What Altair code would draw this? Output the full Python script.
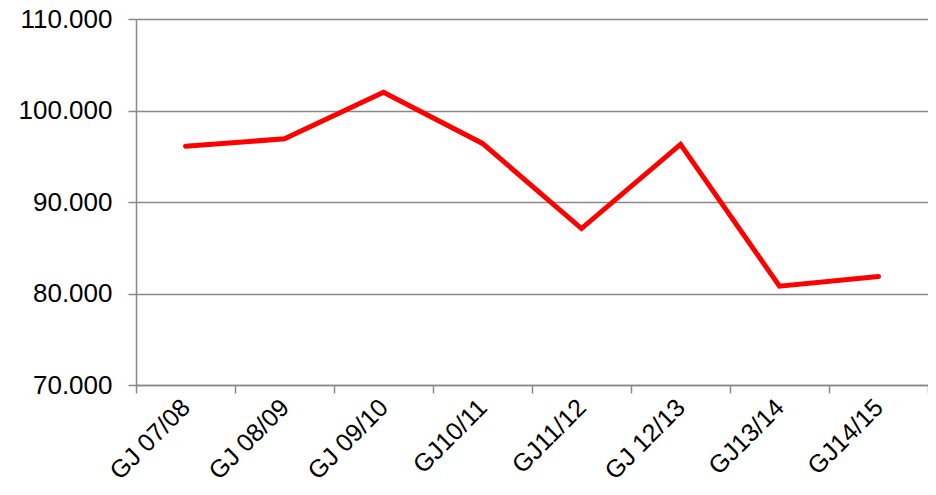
import altair as alt
import pandas as pd

categories = ["GJ 07/08", "GJ 08/09", "GJ 09/10", "GJ10/11", "GJ11/12", "GJ 12/13", "GJ13/14", "GJ14/15"]
values = [96100, 96900, 102000, 96400, 87100, 96300, 80800, 81850]
y_ticks = [70000, 80000, 90000, 100000, 110000]

df = pd.DataFrame({"cat": categories, "val": values})

FONT = "Liberation Sans"
GRAY = "#898989"

chart = alt.Chart(df).mark_line(
    color="#FF0000", strokeWidth=5, strokeCap="round", strokeJoin="miter"
).encode(
    x=alt.X("cat:N", sort=categories, title=None,
            scale=alt.Scale(paddingInner=0, paddingOuter=0),
            axis=alt.Axis(labelAngle=-45, labelAlign="right", labelBaseline="middle",
                          tickBand="extent", grid=False, domainColor=GRAY, tickColor=GRAY,
                          domainWidth=1.5, tickWidth=1.5, tickSize=8, labelPadding=10,
                          labelFont=FONT, labelFontSize=25, labelColor="#000000")),
    y=alt.Y("val:Q", title=None,
            scale=alt.Scale(domain=[70000, 110000], nice=False, zero=False),
            axis=alt.Axis(values=y_ticks, grid=True, gridColor=GRAY, gridWidth=1.5,
                          domainColor=GRAY, domainWidth=1.5, tickColor=GRAY, tickWidth=1.5,
                          tickSize=8, labelPadding=16,
                          labelExpr="replace(format(datum.value, ','), ',', '.')",
                          labelFont=FONT, labelFontSize=26, labelColor="#000000")),
).properties(
    width=792, height=366,
    padding={"left": 128, "top": 11, "right": 0, "bottom": 102},
    autosize=alt.AutoSizeParams(type="none"),
).configure_view(stroke=None)

chart.save("out.html", embed_options={"renderer": "svg", "actions": False})
